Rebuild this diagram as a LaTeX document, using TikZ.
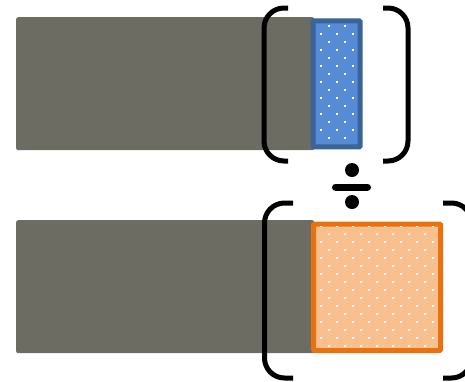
\documentclass[tikz,border=0pt]{standalone}
\usepackage{tikz}
\definecolor{bargray}{HTML}{6C6C63}
\definecolor{sliceblue}{HTML}{568CD4}
\definecolor{sliceblueedge}{HTML}{3A6397}
\definecolor{sliceorange}{HTML}{F8BF8F}
\definecolor{sliceorangeedge}{HTML}{E8720F}
\usetikzlibrary{positioning}
\tikzset{
  bar/.style={
    rectangle, rounded corners=2pt, fill=bargray, inner sep=0pt,
    minimum width=298pt, minimum height=133pt, anchor=north west
  },
  slice/.style={
    rectangle, rounded corners=1pt, line width=5pt, inner sep=0pt,
    anchor=north west
  },
  bracket/.style={line width=5pt, rounded corners=20pt},
  divsign/.style={line width=7pt, line cap=round}
}
% white dot grid inside a slice
\newcommand{\slicedots}[1]{%
  \begin{scope}
    \clip ([shift={(5,5)}]#1.north west) rectangle
          ([shift={(-5,-5)}]#1.south east);
    \foreach \j in {0,2,...,42}{
      \foreach \k in {1,3,...,17}
        \fill[white] (319.7+8*\k,24.7+8*\j) rectangle +(2,2);
    }
    \foreach \j in {1,3,...,41}{
      \foreach \k in {0,2,...,16}
        \fill[white] (319.7+8*\k,24.7+8*\j) rectangle +(2,2);
    }
  \end{scope}}

\begin{document}
\begin{tikzpicture}[x=1pt, y=-1pt]
\useasboundingbox (0,0) rectangle (465,381);

\node[bar] (topbar) at (16,17) {};
\node[bar] (botbar) at (16,220) {};

\node[slice, draw=sliceblueedge, fill=sliceblue, minimum width=47pt,
  minimum height=126pt] (topslice) at (310.7,18.3) {};
\node[slice, draw=sliceorangeedge, fill=sliceorange, minimum width=127pt,
  minimum height=126.5pt] (botslice) at (311,221.5) {};
\slicedots{topslice}
\slicedots{botslice}

% brackets round the slices
\draw[bracket] (288,8) -- (264,8) -- (264,161) -- (288,161);
\draw[bracket] (383,8) -- (408,8) -- (408,161) -- (383,161);
\draw[bracket] (293,203) -- (264.5,203) -- (264.5,378) -- (293,378);
\draw[bracket] (443,203) -- (471.5,203) -- (471.5,378) -- (443,378);

% division sign
\draw[divsign] (335.5,187) -- (367.5,187);
\fill (352,170) circle (7);
\fill (352,202) circle (7);
\end{tikzpicture}
\end{document}
